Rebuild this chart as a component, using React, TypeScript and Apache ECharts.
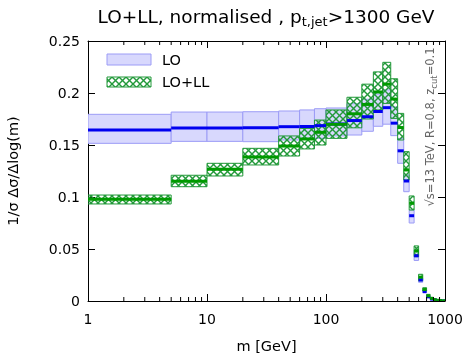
import React, { useEffect, useRef } from "react";
import * as echarts from "echarts";

const binEdges = [1, 5, 10, 20, 40, 60, 80, 100, 150, 200, 250, 300, 350, 400, 450, 500, 550, 600, 650, 700, 750, 800, 850, 900, 950, 1000];

const loCentral = [0.1644, 0.1663, 0.1663, 0.1667, 0.1676, 0.1678, 0.1686, 0.1702, 0.1735, 0.1772, 0.1822, 0.1859, 0.171, 0.1444, 0.1154, 0.082, 0.0435, 0.0202, 0.009, 0.004, 0.0018, 0.001, 0.0005, 0.0003, 0.0001];
const loLow = [0.1516, 0.1535, 0.1535, 0.1532, 0.1548, 0.1555, 0.1564, 0.1587, 0.1596, 0.1632, 0.168, 0.17, 0.159, 0.1324, 0.1051, 0.075, 0.039, 0.018, 0.008, 0.0035, 0.0014, 0.0007, 0.0003, 0.0001, 0.0];
const loHigh = [0.1795, 0.1817, 0.1817, 0.182, 0.1827, 0.1837, 0.1849, 0.1856, 0.1897, 0.194, 0.199, 0.203, 0.1866, 0.1564, 0.1212, 0.0875, 0.049, 0.022, 0.0105, 0.005, 0.0023, 0.0013, 0.0007, 0.0004, 0.0002];

const llCentral = [0.0978, 0.1151, 0.1266, 0.1385, 0.149, 0.1558, 0.1622, 0.1699, 0.18, 0.189, 0.201, 0.2085, 0.1942, 0.1668, 0.126, 0.094, 0.048, 0.023, 0.011, 0.005, 0.0025, 0.0013, 0.0007, 0.0004, 0.0002];
const llLow = [0.0933, 0.1099, 0.1202, 0.1308, 0.1394, 0.1462, 0.15, 0.1564, 0.1665, 0.175, 0.1837, 0.19, 0.1756, 0.1548, 0.1163, 0.0875, 0.0426, 0.0195, 0.0096, 0.0035, 0.0015, 0.0008, 0.0004, 0.0002, 0.0001];
const llHigh = [0.1019, 0.1209, 0.1324, 0.1468, 0.1587, 0.166, 0.174, 0.1837, 0.1959, 0.2085, 0.2203, 0.2295, 0.2137, 0.1804, 0.1436, 0.101, 0.053, 0.0257, 0.0128, 0.0064, 0.0035, 0.002, 0.001, 0.0006, 0.0003];

const minorTicks = [2, 3, 4, 5, 6, 7, 8, 9, 20, 30, 40, 50, 60, 70, 80, 90, 200, 300, 400, 500, 600, 700, 800, 900];

const FONT = "DejaVu Sans";
const LAV = "#d8d8fd";
const LAV_EDGE = "#9c9cf6";
const BLUE = "#0000f0";
const GREEN = "#23993a";
const GREEN_LINE = "#009a00";

function makeHatch() {
  const s = 7;
  const c = document.createElement("canvas");
  c.width = s;
  c.height = s;
  const ctx = c.getContext("2d")!;
  ctx.strokeStyle = GREEN;
  ctx.lineWidth = 1.4;
  for (const k of [-s, 0, s]) {
    ctx.beginPath();
    ctx.moveTo(k, 0);
    ctx.lineTo(k + s, s);
    ctx.stroke();
    ctx.beginPath();
    ctx.moveTo(k, s);
    ctx.lineTo(k + s, 0);
    ctx.stroke();
  }
  return c;
}

function binData(low: number[], high: number[], central: number[]) {
  return central.map((c, i) => [binEdges[i], binEdges[i + 1], low[i], high[i], c]);
}

export default function App() {
  const ref = useRef<HTMLDivElement>(null);
  useEffect(() => {
    if (!ref.current) return;
    const chart = echarts.init(ref.current, undefined, { renderer: "svg" });
    const hatch = { image: makeHatch(), repeat: "repeat" };

    const boxItem = (style: any) => (params: any, api: any) => {
      const p0 = api.coord([api.value(0), api.value(3)]);
      const p1 = api.coord([api.value(1), api.value(2)]);
      return {
        type: "rect",
        shape: { x: p0[0], y: p0[1], width: p1[0] - p0[0], height: p1[1] - p0[1] },
        style,
      };
    };
    const lineItem = (color: string) => (params: any, api: any) => {
      const p0 = api.coord([api.value(0), api.value(4)]);
      const p1 = api.coord([api.value(1), api.value(4)]);
      return {
        type: "line",
        shape: { x1: p0[0], y1: p0[1], x2: p1[0], y2: p1[1] },
        style: { stroke: color, lineWidth: 3 },
      };
    };

    const axisCommon = {
      axisLine: { show: true, onZero: false, lineStyle: { color: "#000", width: 1 } },
      axisTick: { show: true, inside: true, length: 7, lineStyle: { color: "#000", width: 1 } },
      splitLine: { show: false },
    };

    const option: any = {
      animation: false,
      grid: { left: 88, right: 20, top: 41, bottom: 52, containLabel: false, outerBoundsMode: "none" },
      xAxis: [
        {
          type: "log",
          logBase: 10,
          min: 1,
          max: 1000,
          position: "bottom",
          ...axisCommon,
          axisLabel: {
            margin: 11,
            fontSize: 14,
            color: "#000",
            fontFamily: FONT,
            showMinLabel: true,
            showMaxLabel: true,
            formatter: (v: number) => String(Math.round(v)),
          },
          name: "m [GeV]",
          nameLocation: "middle",
          nameGap: 37,
          nameTextStyle: { fontSize: 14.5, color: "#000", fontFamily: FONT },
        },
        {
          type: "log",
          logBase: 10,
          min: 1,
          max: 1000,
          position: "top",
          ...axisCommon,
          axisLabel: { show: false },
        },
      ],
      yAxis: [
        {
          type: "value",
          min: 0,
          max: 0.25,
          interval: 0.05,
          position: "left",
          ...axisCommon,
          axisLabel: { margin: 8, fontSize: 14, color: "#000", fontFamily: FONT },
          name: "1/σ Δσ/Δlog(m)",
          nameLocation: "middle",
          nameGap: 68,
          nameTextStyle: { fontSize: 14.5, color: "#000", fontFamily: FONT },
        },
        {
          type: "value",
          min: 0,
          max: 0.25,
          interval: 0.05,
          position: "right",
          ...axisCommon,
          axisLabel: { show: false },
        },
      ],
      series: [
        {
          type: "custom",
          name: "LO band",
          clip: true,
          encode: { x: [0, 1], y: [2, 3] },
          data: binData(loLow, loHigh, loCentral),
          renderItem: boxItem({ fill: LAV, stroke: LAV_EDGE, lineWidth: 1 }),
        },
        {
          type: "custom",
          name: "LO+LL band",
          clip: true,
          encode: { x: [0, 1], y: [2, 3] },
          data: binData(llLow, llHigh, llCentral),
          renderItem: boxItem({ fill: hatch, stroke: GREEN, lineWidth: 1 }),
        },
        {
          type: "custom",
          name: "LO",
          clip: true,
          encode: { x: [0, 1], y: [4] },
          data: binData(loLow, loHigh, loCentral),
          renderItem: lineItem(BLUE),
        },
        {
          type: "custom",
          name: "LO+LL",
          clip: true,
          encode: { x: [0, 1], y: [4] },
          data: binData(llLow, llHigh, llCentral),
          renderItem: lineItem(GREEN_LINE),
        },
        {
          type: "custom",
          name: "minor ticks",
          encode: { x: 0, y: 1 },
          data: minorTicks.map((v) => [v, 0]),
          renderItem: (params: any, api: any) => {
            const pb = api.coord([api.value(0), 0]);
            const pt = api.coord([api.value(0), 0.25]);
            return {
              type: "group",
              children: [
                { type: "line", shape: { x1: pb[0], y1: pb[1], x2: pb[0], y2: pb[1] - 4 }, style: { stroke: "#000", lineWidth: 1 } },
                { type: "line", shape: { x1: pt[0], y1: pt[1], x2: pt[0], y2: pt[1] + 4 }, style: { stroke: "#000", lineWidth: 1 } },
              ],
            };
          },
        },
      ],
      graphic: [
        {
          type: "text",
          x: 266,
          y: 16,
          style: {
            text: "{a|LO+LL, normalised , p}{b|t,jet}{a|>1300 GeV}",
            align: "center",
            verticalAlign: "middle",
            rich: {
              a: { fontSize: 18.5, fontFamily: FONT, fill: "#000", lineHeight: 24, verticalAlign: "middle" },
              b: { fontSize: 13, fontFamily: FONT, fill: "#000", lineHeight: 14, verticalAlign: "bottom" },
            },
          },
        },
        {
          type: "text",
          x: 430,
          y: 127,
          rotation: Math.PI / 2,
          style: {
            text: "{a|√s=13 TeV, R=0.8, z}{b|cut}{a|=0.1}",
            align: "center",
            verticalAlign: "middle",
            rich: {
              a: { fontSize: 11.5, fontFamily: FONT, fill: "#666", lineHeight: 16, verticalAlign: "middle" },
              b: { fontSize: 8.5, fontFamily: FONT, fill: "#666", lineHeight: 10, verticalAlign: "bottom" },
            },
          },
        },
        {
          type: "rect",
          shape: { x: 107, y: 54, width: 44, height: 11 },
          style: { fill: LAV, stroke: LAV_EDGE, lineWidth: 1 },
        },
        {
          type: "text",
          x: 162,
          y: 60,
          style: { text: "LO", fontSize: 14.5, fontFamily: FONT, fill: "#000", align: "left", verticalAlign: "middle" },
        },
        {
          type: "rect",
          shape: { x: 107, y: 77, width: 44, height: 10 },
          style: { fill: hatch, stroke: GREEN, lineWidth: 1 },
        },
        {
          type: "text",
          x: 162,
          y: 82,
          style: { text: "LO+LL", fontSize: 14.5, fontFamily: FONT, fill: "#000", align: "left", verticalAlign: "middle" },
        },
      ],
    };
    chart.setOption(option);
    return () => chart.dispose();
  }, []);
  return <div ref={ref} style={{ position: "fixed", left: 0, top: 0, width: 465, height: 353 }} />;
}
